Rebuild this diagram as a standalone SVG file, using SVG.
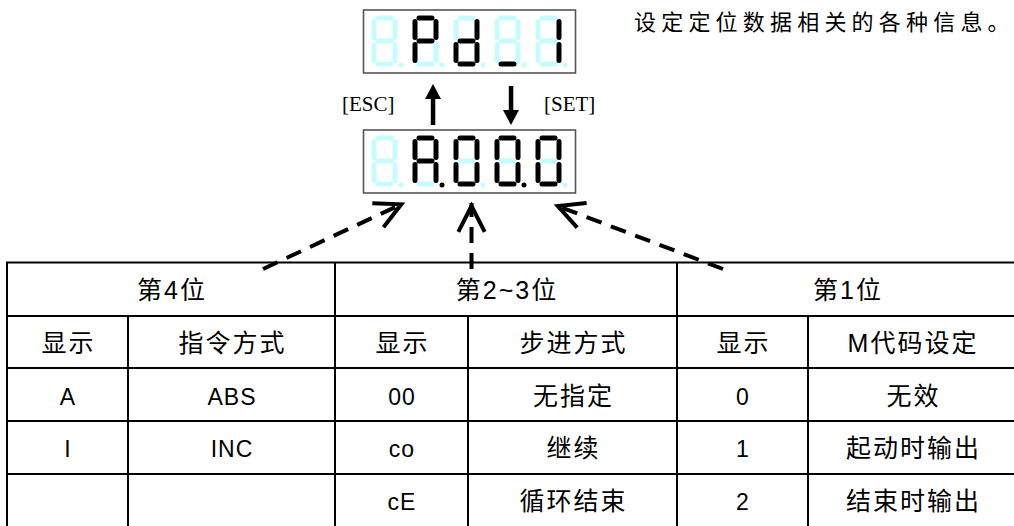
<svg xmlns="http://www.w3.org/2000/svg" width="1014" height="526" viewBox="0 0 1014 526">
<style>
.box{fill:#fff;stroke:#555;stroke-width:1.6}
.on{fill:none;stroke:#000;stroke-width:5;stroke-linecap:round}
.off{fill:none;stroke:#c4fcff;stroke-width:5;stroke-linecap:round}
.don{fill:#000}
.doff{fill:#c4fcff}
.key{font-family:"Liberation Serif",serif;font-size:21px;fill:#000}
.note{font-family:"Liberation Sans","Noto Sans CJK SC",sans-serif;font-size:22px;letter-spacing:5.2px;fill:#000}
.grid{stroke:#000;stroke-width:2;fill:none}
.cj{font-family:"Liberation Sans","Noto Sans CJK SC",sans-serif;font-size:25px;letter-spacing:2px;text-anchor:middle;fill:#000}
.lt{font-family:"Liberation Sans","Noto Sans CJK SC",sans-serif;font-size:23px;letter-spacing:1px;text-anchor:middle;fill:#000}
.dash{fill:none;stroke:#000;stroke-width:4;stroke-dasharray:16 10}
.chev{fill:none;stroke:#000;stroke-width:4;stroke-linejoin:miter}
</style>
<defs>
<marker id="chev" markerUnits="userSpaceOnUse" orient="auto" refX="0" refY="0" markerWidth="40" markerHeight="40" overflow="visible">
<path class="chev" d="M-28.8,-13.2 L-3,0 L-28.8,13.2"/>
</marker>
</defs>

<g id="display-pd">
<rect class="box" x="363.5" y="10" width="212" height="63"/>
<g transform="translate(374,18)">
<path class="off" d="M4,0H17M21,3.5V19.5M21,26.5V42.5M4,46H17M0,26.5V42.5M0,3.5V19.5M4,23H17"/><circle class="doff" cx="27" cy="47" r="2.5"/>
</g>
<g transform="translate(415,18)">
<path class="on" d="M4,0H17M21,3.5V19.5M4,23H17M0,3.5V19.5M0,26.5V42.5"/><path class="off" d="M21,26.5V42.5M4,46H17"/><circle class="doff" cx="27" cy="47" r="2.5"/>
</g>
<g transform="translate(456,18)">
<path class="on" d="M21,3.5V19.5M21,26.5V42.5M4,46H17M0,26.5V42.5M4,23H17"/><path class="off" d="M4,0H17M0,3.5V19.5"/><circle class="doff" cx="27" cy="47" r="2.5"/>
</g>
<g transform="translate(497,18)">
<path class="on" d="M4,46H17"/><path class="off" d="M4,0H17M21,3.5V19.5M21,26.5V42.5M0,26.5V42.5M0,3.5V19.5M4,23H17"/><circle class="doff" cx="27" cy="47" r="2.5"/>
</g>
<g transform="translate(538,18)">
<path class="on" d="M21,3.5V19.5M21,26.5V42.5"/><path class="off" d="M4,0H17M4,46H17M0,26.5V42.5M0,3.5V19.5M4,23H17"/><circle class="doff" cx="27" cy="47" r="2.5"/>
</g>
</g>

<g id="key-esc">
<rect x="430.8" y="97" width="4.5" height="28" fill="#000"/>
<polygon points="433,84 425,99 441,99" fill="#000"/>
<text class="key" x="342" y="111">[ESC]</text>
</g>
<g id="key-set">
<rect x="508.8" y="86" width="4.5" height="26" fill="#000"/>
<polygon points="511,125 503,110 519,110" fill="#000"/>
<text class="key" x="544" y="111">[SET]</text>
</g>

<g id="display-a000">
<rect class="box" x="363.5" y="130" width="212" height="63"/>
<g transform="translate(374,138)">
<path class="off" d="M4,0H17M21,3.5V19.5M21,26.5V42.5M4,46H17M0,26.5V42.5M0,3.5V19.5M4,23H17"/><circle class="doff" cx="27" cy="47" r="2.5"/>
</g>
<g transform="translate(415,138)">
<path class="on" d="M4,0H17M21,3.5V19.5M21,26.5V42.5M0,26.5V42.5M0,3.5V19.5M4,23H17"/><path class="off" d="M4,46H17"/><circle class="don" cx="27" cy="47" r="2.5"/>
</g>
<g transform="translate(456,138)">
<path class="on" d="M4,0H17M21,3.5V19.5M21,26.5V42.5M4,46H17M0,26.5V42.5M0,3.5V19.5"/><path class="off" d="M4,23H17"/><circle class="doff" cx="27" cy="47" r="2.5"/>
</g>
<g transform="translate(497,138)">
<path class="on" d="M4,0H17M21,3.5V19.5M21,26.5V42.5M4,46H17M0,26.5V42.5M0,3.5V19.5"/><path class="off" d="M4,23H17"/><circle class="don" cx="27" cy="47" r="2.5"/>
</g>
<g transform="translate(538,138)">
<path class="on" d="M4,0H17M21,3.5V19.5M21,26.5V42.5M4,46H17M0,26.5V42.5M0,3.5V19.5"/><path class="off" d="M4,23H17"/><circle class="doff" cx="27" cy="47" r="2.5"/>
</g>
</g>

<g id="note">
<text class="note" x="634" y="30">设定定位数据相关的各种信息。</text>
</g>

<g id="table">
<path class="grid" d="M7,262.5H1016M7,316H1016M7,368H1016M7,421H1016M7,474H1016M7,261.5V527M335,261.5V527M677,261.5V527M128,316V527M468,316V527M808,316V527"/>
<g id="col-4th">
<text class="cj" x="172" y="299">第4位</text>
<text class="cj" x="68.5" y="352">显示</text>
<text class="cj" x="232.5" y="352">指令方式</text>
<text class="lt" x="68" y="405">A</text>
<text class="lt" x="232" y="405">ABS</text>
<text class="lt" x="68" y="457">I</text>
<text class="lt" x="232" y="457">INC</text>
</g>
<g id="col-2-3rd">
<text class="cj" x="507" y="299">第2~3位</text>
<text class="cj" x="402.5" y="352">显示</text>
<text class="cj" x="573.5" y="352">步进方式</text>
<text class="lt" x="402" y="405">00</text>
<text class="cj" x="573.5" y="405">无指定</text>
<text class="lt" x="402" y="457">co</text>
<text class="cj" x="573.5" y="457">继续</text>
<text class="lt" x="402" y="510">cE</text>
<text class="cj" x="573.5" y="510">循环结束</text>
</g>
<g id="col-1st">
<text class="cj" x="848" y="299">第1位</text>
<text class="cj" x="743.5" y="352">显示</text>
<text class="cj" x="913" y="352">M代码设定</text>
<text class="lt" x="743" y="405">0</text>
<text class="cj" x="913.5" y="405">无效</text>
<text class="lt" x="743" y="457">1</text>
<text class="cj" x="913.5" y="457">起动时输出</text>
<text class="lt" x="743" y="510">2</text>
<text class="cj" x="913.5" y="510">结束时输出</text>
</g>
</g>

<g id="connectors">
<path class="dash" d="M263,269 L404,203" marker-end="url(#chev)"/>
<path class="dash" d="M471.5,269 L471.5,203" marker-end="url(#chev)"/>
<path class="dash" d="M723,269 L555,205" marker-end="url(#chev)"/>
</g>
</svg>
